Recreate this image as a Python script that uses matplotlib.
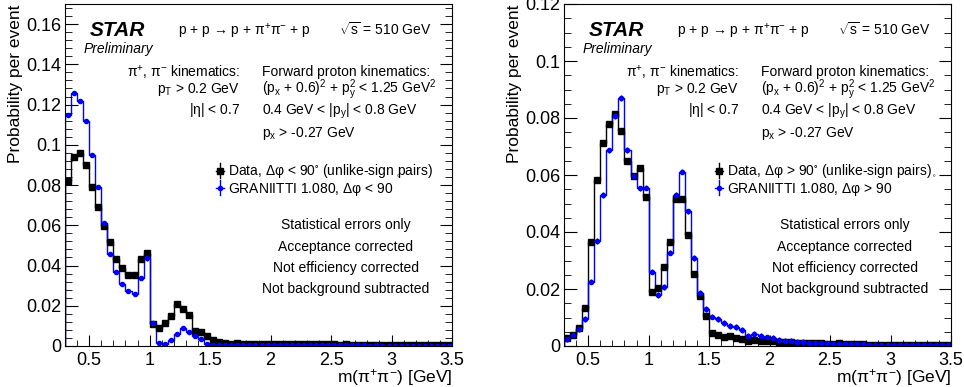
import numpy as np
import matplotlib
matplotlib.use("Agg")
import matplotlib.pyplot as plt
from matplotlib.ticker import MultipleLocator

plt.rcParams['font.family'] = ['Liberation Sans', 'DejaVu Sans']
plt.rcParams['mathtext.fontset'] = 'custom'
plt.rcParams['mathtext.rm'] = 'Liberation Sans'
plt.rcParams['mathtext.it'] = 'Liberation Sans:italic'
plt.rcParams['mathtext.bf'] = 'Liberation Sans:bold'
plt.rcParams['mathtext.default'] = 'regular'

# m(pi+pi-) binning, 0.05 GeV bins from 0.3 to 3.5 GeV
edges = np.linspace(0.3, 3.5, 65)

# left: delta phi < 90 deg
data_lt90 = [0.082, 0.094, 0.096, 0.090, 0.079, 0.069, 0.0595, 0.0518, 0.043, 0.039,
             0.0355, 0.0355, 0.043, 0.046, 0.011, 0.0088, 0.0115, 0.0148, 0.0208, 0.0185,
             0.0155, 0.0076, 0.0068, 0.0052, 0.003, 0.0018, 0.0013, 0.0012, 0.0013, 0.0011,
             0.0012, 0.0011, 0.0012, 0.0010, 0.0011, 0.0010, 0.0010, 0.0009, 0.0010, 0.0009,
             0.0009, 0.0008, 0.0009, 0.0008, 0.0008, 0.0007, 0.0008, 0.0007, 0.0007, 0.0006,
             0.0007, 0.0006, 0.0006, 0.0006, 0.0005, 0.0006, 0.0005, 0.0005, 0.0005, 0.0004,
             0.0005, 0.0004, 0.0004, 0.0004]
mc_lt90 = [0.115, 0.126, 0.122, 0.112, 0.095, 0.079, 0.061, 0.0455, 0.0367, 0.031,
           0.0275, 0.0258, 0.034, 0.0435, 0.0115, 0.0017, 0.0012, 0.003, 0.0058, 0.0088,
           0.0068, 0.005, 0.0033, 0.0012, 0.0006, 0.0005, 0.0006, 0.0006, 0.0005, 0.0006,
           0.0005, 0.0005, 0.0005, 0.0005, 0.0004, 0.0005, 0.0004, 0.0004, 0.0004, 0.0004,
           0.0004, 0.0003, 0.0004, 0.0003, 0.0003, 0.0003, 0.0003, 0.0003, 0.0003, 0.0003,
           0.0002, 0.0003, 0.0002, 0.0002, 0.0002, 0.0002, 0.0002, 0.0002, 0.0002, 0.0002,
           0.0002, 0.0002, 0.0002, 0.0002]

# right: delta phi > 90 deg
data_gt90 = [0.0027, 0.0039, 0.0062, 0.0132, 0.0366, 0.0583, 0.0713, 0.0778, 0.0813, 0.0756,
             0.065, 0.0598, 0.0623, 0.0524, 0.0191, 0.0202, 0.0276, 0.0366, 0.0516, 0.0515,
             0.039, 0.0252, 0.0176, 0.0105, 0.0047, 0.0038, 0.0032, 0.0034, 0.0028, 0.0024,
             0.0018, 0.0022, 0.0019, 0.0018, 0.0016, 0.0015, 0.0013, 0.0014, 0.0012, 0.0011,
             0.0010, 0.0010, 0.0009, 0.0008, 0.0008, 0.0009, 0.0007, 0.0006, 0.0007, 0.0006,
             0.0005, 0.0005, 0.0005, 0.0004, 0.0004, 0.0004, 0.0003, 0.0004, 0.0003, 0.0003,
             0.0003, 0.0002, 0.0003, 0.0002]
mc_gt90 = [0.0025, 0.0037, 0.006, 0.0095, 0.0226, 0.0368, 0.053, 0.0686, 0.0807, 0.087,
           0.0688, 0.0597, 0.0553, 0.0556, 0.0261, 0.0179, 0.0208, 0.0328, 0.053, 0.0612,
           0.0472, 0.0308, 0.0187, 0.0129, 0.0103, 0.0095, 0.008, 0.007, 0.0066, 0.0056,
           0.0036, 0.0042, 0.0035, 0.003, 0.0027, 0.0022, 0.0019, 0.0017, 0.0015, 0.0013,
           0.0012, 0.0011, 0.0010, 0.0009, 0.0008, 0.0008, 0.0007, 0.0007, 0.0006, 0.0006,
           0.0005, 0.0005, 0.0005, 0.0004, 0.0004, 0.0004, 0.0003, 0.0003, 0.0003, 0.0003,
           0.0003, 0.0002, 0.0002, 0.0002]

stat_err = 0.0010  # errors are tiny, roughly this size everywhere

centers = 0.5 * (edges[:-1] + edges[1:])
TXT = 10


def panel(ax, data, mc, ymax, ymaj, ymin, sign, deg_x):
    ax.stairs(data, edges, color="black", lw=1)
    ax.stairs(mc, edges, color="blue", lw=1)
    ax.errorbar(centers, data, yerr=stat_err, fmt="s", ms=4.2, color="black", elinewidth=1, capsize=0)
    ax.errorbar(centers, mc, yerr=stat_err, fmt="o", ms=3, color="blue", elinewidth=1, capsize=0)
    ax.set_xlim(0.3, 3.5); ax.set_ylim(0, ymax)
    ax.xaxis.set_major_locator(MultipleLocator(0.5)); ax.xaxis.set_minor_locator(MultipleLocator(0.1))
    ax.yaxis.set_major_locator(MultipleLocator(ymaj)); ax.yaxis.set_minor_locator(MultipleLocator(ymin))
    ax.xaxis.set_major_formatter(lambda v, p: f"{v:g}")
    ax.yaxis.set_major_formatter(lambda v, p: f"{v:g}")
    ax.tick_params(which="both", direction="in", right=True, top=False, labelsize=13)
    ax.tick_params(axis="x", which="major", length=8, pad=4)
    ax.tick_params(axis="x", which="minor", length=4.5)
    ax.tick_params(axis="y", which="major", length=9, pad=2.5)
    ax.tick_params(axis="y", which="minor", length=5)
    ax.text(-0.128, 0.997, "Probability per event", transform=ax.transAxes, rotation=90,
            ha="center", va="top", fontsize=12.5)
    ax.text(1.0, -0.092, r"m($\pi^{+}\pi^{-}$) [GeV]", transform=ax.transAxes,
            ha="right", va="center", fontsize=12.5)
    t = ax.transAxes
    ax.text(0.065, 0.907, "STAR", transform=t, fontsize=15, weight="bold", style="italic")
    ax.text(0.047, 0.858, "Preliminary", transform=t, fontsize=10, style="italic")
    ax.text(0.292, 0.909, r"p + p → p + $\pi^{+}\pi^{-}$ + p", transform=t, fontsize=TXT)
    ax.text(0.708, 0.909, r"$\sqrt{s}$ = 510 GeV", transform=t, fontsize=TXT)
    ax.text(0.452, 0.789, r"$\pi^{+}$, $\pi^{-}$ kinematics:", transform=t, fontsize=TXT, ha="right")
    ax.text(0.452, 0.739, r"p$_{T}$ > 0.2 GeV", transform=t, fontsize=TXT, ha="right")
    ax.text(0.452, 0.677, r"|$\eta$| < 0.7", transform=t, fontsize=TXT, ha="right")
    ax.text(0.508, 0.789, "Forward proton kinematics:", transform=t, fontsize=TXT)
    ax.text(0.508, 0.739, r"(p$_{x}$ + 0.6)$^{2}$ + p$_{y}^{2}$ < 1.25 GeV$^{2}$", transform=t, fontsize=TXT)
    ax.text(0.508, 0.677, r"0.4 GeV < |p$_{y}$| < 0.8 GeV", transform=t, fontsize=TXT)
    ax.text(0.508, 0.612, r"p$_{x}$ > -0.27 GeV", transform=t, fontsize=TXT)
    # legend
    for yy, col, mk, ms in [(0.513, "black", "s", 4.2), (0.463, "blue", "o", 3)]:
        ax.plot([0.39, 0.411], [yy, yy], color=col, lw=1, transform=t)
        ax.plot([0.4005, 0.4005], [yy - 0.022, yy + 0.022], color=col, lw=1, transform=t)
        ax.plot([0.4005], [yy], marker=mk, ms=ms, color=col, transform=t)
    ax.text(0.42, 0.5, r"Data, $\Delta\varphi$ %s 90$^{\circ}$ (unlike-sign pairs)" % sign,
            transform=t, fontsize=TXT)
    ax.text(0.42, 0.448, r"GRANIITTI 1.080, $\Delta\varphi$ %s 90" % sign, transform=t, fontsize=TXT)
    # stray degree sign of the second legend entry, as misplaced in the original
    ax.text(deg_x, 0.489, "°", transform=t, fontsize=5, ha="center", va="center")
    for yy, s in [(0.341, "Statistical errors only"), (0.279, "Acceptance corrected"),
                  (0.217, "Not efficiency corrected"), (0.154, "Not background subtracted")]:
        ax.text(0.726, yy, s, transform=t, fontsize=TXT, ha="center")


fig = plt.figure(figsize=(9.64, 3.87), dpi=100)
axl = fig.add_axes([65 / 964, 41 / 387, 387 / 964, 342 / 387])
axr = fig.add_axes([564 / 964, 41 / 387, 387 / 964, 342 / 387])
panel(axl, data_lt90, mc_lt90, 0.17, 0.02, 0.004, "<", 0.86)
panel(axr, data_gt90, mc_gt90, 0.12, 0.02, 0.005, ">", 0.956)
fig.savefig("out.png", dpi=100)
